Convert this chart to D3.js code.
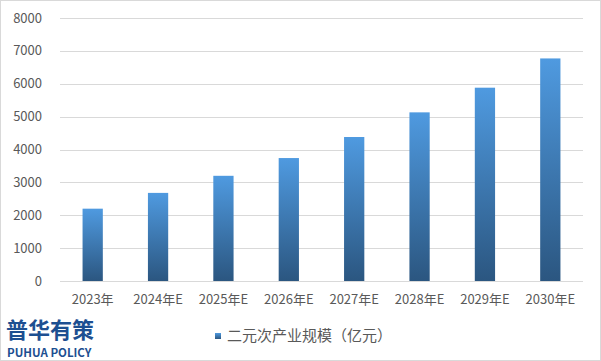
<!DOCTYPE html>
<html>
<head>
<meta charset="utf-8">
<script src="https://cdn.jsdelivr.net/npm/d3@7"></script>
<style>
  body { margin: 0; background: #fff; }
  text { font-family: "Microsoft YaHei", "Noto Sans CJK SC", sans-serif; }
</style>
</head>
<body>
<div id="chart-container"></div>
<script>
(function () {
    'use strict';

    var categories = ['2023年', '2024年E', '2025年E', '2026年E', '2027年E', '2028年E', '2029年E', '2030年E'];
    var values = [2200, 2680, 3200, 3740, 4380, 5130, 5880, 6770];
    var yTicks = [0, 1000, 2000, 3000, 4000, 5000, 6000, 7000, 8000];
    var seriesName = '二元次产业规模（亿元）';

    var width = 601;
    var height = 361;
    var margin = { top: 18, right: 18, bottom: 80, left: 60 };

    var svg = d3.select('#chart-container')
        .append('svg')
        .attr('width', width)
        .attr('height', height);

    svg.append('rect')
        .attr('x', 0.5).attr('y', 0.5)
        .attr('width', width - 1).attr('height', height - 1)
        .attr('fill', '#fff')
        .attr('stroke', '#d9d9d9');

    var defs = svg.append('defs');
    var grad = defs.append('linearGradient')
        .attr('id', 'barGrad')
        .attr('x1', 0).attr('y1', 0).attr('x2', 0).attr('y2', 1);
    grad.append('stop').attr('offset', '0%').attr('stop-color', '#4f9ae0');
    grad.append('stop').attr('offset', '100%').attr('stop-color', '#2b5680');

    var x = d3.scaleBand()
        .domain(categories)
        .range([margin.left, width - margin.right])
        .paddingInner(0.69)
        .paddingOuter(0.345);

    var y = d3.scaleLinear()
        .domain([0, 8000])
        .range([height - margin.bottom, margin.top]);

    // gridlines
    svg.append('g')
        .selectAll('line')
        .data(yTicks)
        .enter()
        .append('line')
        .attr('x1', margin.left)
        .attr('x2', width - margin.right)
        .attr('y1', function (d) { return Math.round(y(d)) + 0.5; })
        .attr('y2', function (d) { return Math.round(y(d)) + 0.5; })
        .attr('stroke', '#d9d9d9')
        .attr('stroke-width', 1);

    // y labels
    svg.append('g')
        .selectAll('text')
        .data(yTicks)
        .enter()
        .append('text')
        .attr('x', 42)
        .attr('y', function (d) { return y(d); })
        .attr('dy', '0.35em')
        .attr('text-anchor', 'end')
        .attr('font-size', 13)
        .attr('fill', '#595959')
        .text(function (d) { return d; });

    // bars
    svg.append('g')
        .selectAll('rect')
        .data(values)
        .enter()
        .append('rect')
        .attr('x', function (d, i) { return x(categories[i]); })
        .attr('y', function (d) { return y(d); })
        .attr('width', x.bandwidth())
        .attr('height', function (d) { return y(0) - y(d); })
        .attr('fill', 'url(#barGrad)');

    // x labels
    svg.append('g')
        .selectAll('text')
        .data(categories)
        .enter()
        .append('text')
        .attr('x', function (d) { return x(d) + x.bandwidth() / 2; })
        .attr('y', 299)
        .attr('dy', '0.35em')
        .attr('text-anchor', 'middle')
        .attr('font-size', 13)
        .attr('fill', '#595959')
        .text(function (d) { return d; });

    // legend
    svg.append('rect')
        .attr('x', 215).attr('y', 333)
        .attr('width', 6).attr('height', 6)
        .attr('fill', 'url(#barGrad)');
    svg.append('text')
        .attr('x', 227)
        .attr('y', 336)
        .attr('dy', '0.35em')
        .attr('font-size', 15)
        .attr('fill', '#595959')
        .text(seriesName);

    // logo
    svg.append('text')
        .attr('x', 6)
        .attr('y', 338)
        .attr('font-size', 22)
        .attr('font-weight', 'bold')
        .attr('fill', '#1d4f91')
        .text('普华有策');
    svg.append('text')
        .attr('x', 7)
        .attr('y', 357)
        .attr('font-size', 11.5)
        .attr('font-weight', 'bold')
        .attr('fill', '#1d4f91')
        .attr('font-family', '"Open Sans", "DejaVu Sans", sans-serif')
        .text('PUHUA POLICY');
}());
</script>
</body>
</html>
